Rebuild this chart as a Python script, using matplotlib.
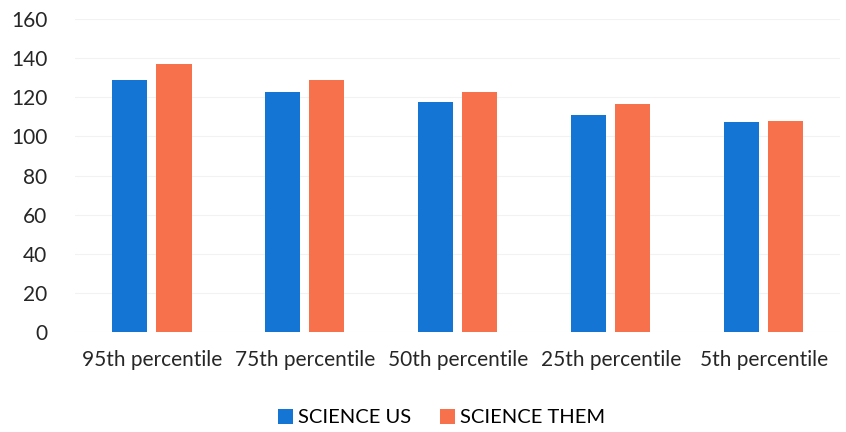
import matplotlib
matplotlib.use("Agg")
import matplotlib.pyplot as plt
import numpy as np

categories = ["95th percentile", "75th percentile", "50th percentile", "25th percentile", "5th percentile"]
science_us = [129, 122.5, 117.5, 111, 107.5]
science_them = [137, 129, 122.5, 116.5, 108]
yticks = [0, 20, 40, 60, 80, 100, 120, 140, 160]

plt.rcParams['font.family'] = ['Lato', 'DejaVu Sans']

fig = plt.figure(figsize=(8.46, 4.32), dpi=100)
ax = fig.add_axes([0.089, 0.231, 0.904, 0.725])

x = np.arange(len(categories))
w = 0.23
off = 0.145
ax.bar(x - off, science_us, w, color="#1475D4", label="SCIENCE US", zorder=3)
ax.bar(x + off, science_them, w, color="#F8714D", label="SCIENCE THEM", zorder=3)

ax.set_xlim(-0.5, len(categories) - 0.5)
ax.set_ylim(0, 160)
ax.set_yticks(yticks)
ax.set_xticks(x)
ax.set_xticklabels(categories, fontsize=15, color="#262626")
ax.tick_params(axis='y', labelsize=15, labelcolor="#262626", length=0, pad=20)
ax.tick_params(axis='x', length=0, pad=13)
for s in ax.spines.values():
    s.set_visible(False)
ax.yaxis.grid(True, color="#f2f2f2", linewidth=0.8, zorder=0)

handles, labels = ax.get_legend_handles_labels()
fig.legend(handles, labels, loc="center", bbox_to_anchor=(0.522, 0.033), ncol=2,
           frameon=False, fontsize=14.5, handlelength=0.75, handleheight=0.75,
           handletextpad=0.25, columnspacing=1.4)

fig.savefig("out.png", dpi=100, facecolor="white")
